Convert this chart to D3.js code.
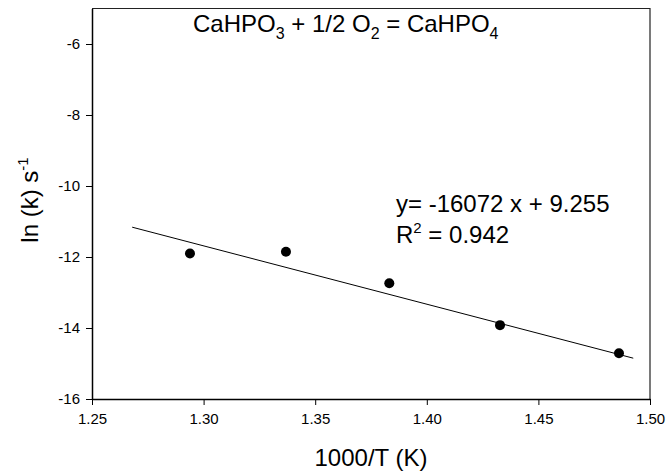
<!DOCTYPE html>
<html>
<head>
<meta charset="utf-8">
<script src="https://cdn.jsdelivr.net/npm/d3@7"></script>
<style>
  body { margin: 0; background: #fff; }
  text { font-family: "Liberation Sans", Arial, sans-serif; fill: #000; }
</style>
</head>
<body>
<div id="chart-area"></div>
<script>
// data
const invT   = [1.2939, 1.3369, 1.3832, 1.4328, 1.4861];   // 1000/T (K)
const lnK    = [-11.90, -11.85, -12.74, -13.92, -14.71];   // ln (k)
const fitX   = [1.268, 1.4925];                             // regression line ends
const fitY   = [-11.16, -14.85];
const xTicks = [1.25, 1.30, 1.35, 1.40, 1.45, 1.50];
const yTicks = [-16, -14, -12, -10, -8, -6];

/* SVG */
const margin = { left: 92, right: 16, top: 8.5, bottom: 76 };
const width  = 666 - margin.left - margin.right;
const height = 475 - margin.top - margin.bottom;

const svg = d3.select("#chart-area")
    .append("svg")
    .attr("width", 666)
    .attr("height", 475);

const g = svg.append("g")
    .attr("transform", `translate(${margin.left}, ${margin.top})`);

/* Scales */
const x = d3.scaleLinear().domain([1.25, 1.50]).range([0, width]);
const y = d3.scaleLinear().domain([-16, -5]).range([height, 0]);

/* Frame (top + right) */
g.append("path")
    .attr("d", `M0,0H${width}V${height}`)
    .attr("fill", "none")
    .attr("stroke", "#222")
    .attr("stroke-width", 1.2);

/* Axes */
const xAxis = g.append("g")
    .attr("transform", `translate(0,${height})`)
    .call(d3.axisBottom(x).tickValues(xTicks).tickFormat(d3.format(".2f"))
        .tickSize(6).tickSizeOuter(0).tickPadding(8));

const yAxis = g.append("g")
    .call(d3.axisLeft(y).tickValues(yTicks).tickFormat(d => String(d))
        .tickSize(6).tickSizeOuter(0).tickPadding(6));

[xAxis, yAxis].forEach(a => {
    a.select(".domain").attr("stroke", "#000").attr("stroke-width", 1.5);
    a.selectAll(".tick line").attr("stroke", "#000");
    a.selectAll(".tick text")
        .attr("font-size", 15)
        .attr("font-family", "'Liberation Sans', Arial, sans-serif")
        .attr("fill", "#000");
});

/* Regression line */
g.append("path")
    .datum(fitX.map((d, i) => [d, fitY[i]]))
    .attr("fill", "none")
    .attr("stroke", "#000")
    .attr("stroke-width", 1)
    .attr("d", d3.line().x(d => x(d[0])).y(d => y(d[1])));

/* Points */
g.selectAll("circle")
    .data(invT.map((d, i) => ({ x: d, y: lnK[i] })))
    .join("circle")
    .attr("cx", d => x(d.x))
    .attr("cy", d => y(d.y))
    .attr("r", 5)
    .attr("fill", "#000");

/* Title */
const title = svg.append("text")
    .attr("x", 193)
    .attr("y", 32)
    .attr("font-size", 24);
const sub = (t, s) => {
    t.append("tspan").attr("dy", 7).attr("font-size", 16).text(s);
};
title.append("tspan").text("CaHPO");
sub(title, "3");
title.append("tspan").attr("dy", -7).text(" + 1/2 O");
sub(title, "2");
title.append("tspan").attr("dy", -7).text(" = CaHPO");
sub(title, "4");

/* Equation */
svg.append("text")
    .attr("x", 396)
    .attr("y", 212)
    .attr("font-size", 24)
    .text("y= -16072 x + 9.255");

const r2 = svg.append("text")
    .attr("x", 396)
    .attr("y", 243)
    .attr("font-size", 24);
r2.append("tspan").text("R");
r2.append("tspan").attr("dy", -10).attr("font-size", 15).text("2");
r2.append("tspan").attr("dy", 10).text(" = 0.942");

/* Axis titles */
svg.append("text")
    .attr("x", margin.left + width / 2)
    .attr("y", 466)
    .attr("text-anchor", "middle")
    .attr("font-size", 24)
    .text("1000/T (K)");

const yt = svg.append("text")
    .attr("transform", "translate(38,200) rotate(-90)")
    .attr("text-anchor", "middle")
    .attr("font-size", 24);
yt.append("tspan").text("ln (k) s");
yt.append("tspan").attr("dy", -10).attr("font-size", 15).text("-1");
</script>
</body>
</html>
